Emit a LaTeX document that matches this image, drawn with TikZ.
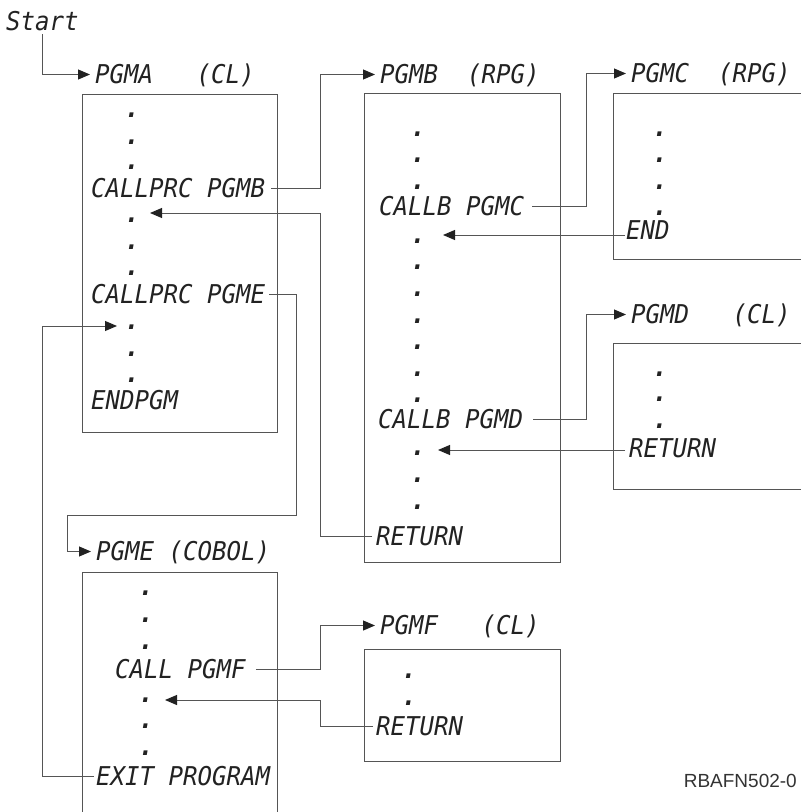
\documentclass[tikz,border=0pt]{standalone}
\usepackage{fontspec}
\usetikzlibrary{arrows.meta}
\newfontfamily\monoit{DejaVu Sans Mono Oblique}[FakeStretch=0.93]
\newfontfamily\monobi{DejaVu Sans Mono Bold Oblique}[FakeStretch=0.93]
\newfontfamily\refont{Liberation Sans}
\definecolor{txt}{HTML}{222222}
\definecolor{ln}{HTML}{555555}
\definecolor{idc}{HTML}{333333}
\begin{document}
\begin{tikzpicture}[x=1pt,y=-1pt,
  code/.style={font=\monoit\fontsize{25.9}{26}\selectfont, inner sep=0pt, text height=17pt, text depth=0pt, anchor=base west, text=txt},
  dotl/.style={code, font=\monobi\fontsize{25.9}{26}\selectfont, anchor=base},
  boxn/.style={draw=ln, line width=1pt, inner sep=0pt, anchor=north west},
  boxp/.style={draw=ln, line width=1pt},
  arr/.style={draw=ln, line width=1pt, -{Triangle[length=12pt,width=10pt,color=txt]}},
  larr/.style={arr, shorten >=5pt}]
\useasboundingbox (0,0) rectangle (801,812);

% Start
\node[code] (start) at (6,30) {Start};

% PGMA
\node[code] (pgmaL) at (95,83) {PGMA~~~(CL)};
\node[boxn, minimum width=195pt, minimum height=338pt] (boxA) at (82,94) {};
\foreach \n/\y in {1/117,2/144,3/169,5/222,6/249,7/275,9/329,10/356,11/382}
  \node[dotl] (a\n) at (132,\y) {.};
\node[code] (a4) at (91,197) {CALLPRC~PGMB};
\node[code] (a8) at (91,303) {CALLPRC~PGME};
\node[code] (a12) at (91,409) {ENDPGM};

% PGMB
\node[code] (pgmbL) at (380,83) {PGMB~~(RPG)};
\node[boxn, minimum width=196pt, minimum height=469pt] (boxB) at (364,93) {};
\foreach \n/\y in {1/136,2/162,3/189,5/243,6/269,7/296,8/323,9/349,10/376,11/402,13/455,14/482,15/509}
  \node[dotl] (b\n) at (418,\y) {.};
\node[code] (b4) at (379,215) {CALLB~PGMC};
\node[code] (b12) at (378,428) {CALLB~PGMD};
\node[code] (b16) at (376,545) {RETURN};

% PGMC
\node[code] (pgmcL) at (631,82) {PGMC~~(RPG)};
\draw[boxp] (801,93) -- (613,93) -- (613,259) -- (801,259);
\foreach \n/\y in {1/136,2/162,3/189,4/215}
  \node[dotl] (c\n) at (660,\y) {.};
\node[code] (c5) at (626,239) {END};

% PGMD
\node[code] (pgmdL) at (631,323) {PGMD~~~(CL)};
\draw[boxp] (801,343) -- (613,343) -- (613,489) -- (801,489);
\foreach \n/\y in {1/376,2/401,3/428}
  \node[dotl] (d\n) at (660,\y) {.};
\node[code] (d4) at (629,457) {RETURN};

% PGME
\node[code] (pgmeL) at (96,560) {PGME~(COBOL)};
\draw[boxp] (82,812) -- (82,572) -- (277,572) -- (277,812);
\foreach \n/\y in {1/595,2/622,3/649,5/702,6/728,7/755}
  \node[dotl] (e\n) at (146,\y) {.};
\node[code] (e4) at (115,678) {CALL~PGMF};
\node[code] (e8) at (96,785) {EXIT~PROGRAM};

% PGMF
\node[code] (pgmfL) at (380,634) {PGMF~~~(CL)};
\node[boxn, minimum width=196pt, minimum height=112pt] (boxF) at (364,649) {};
\foreach \n/\y in {1/678,2/705}
  \node[dotl] (f\n) at (409,\y) {.};
\node[code] (f3) at (376,735) {RETURN};

% figure id
\node[font=\refont\fontsize{19}{19}\selectfont, text=idc, anchor=base east, inner sep=0pt] (figid) at (797,787) {RBAFN502-0};

% routing coordinates
\coordinate (xB) at (320,0);
\coordinate (xE) at (296,0);
\coordinate (xE2) at (67,0);
\coordinate (xR) at (42,0);
\coordinate (xC) at (586,0);
\coordinate (yE) at (0,515);
\coordinate (tA5) at ([xshift=18pt,yshift=9pt]a5.base);
\coordinate (tA9) at ([xshift=-15pt,yshift=3pt]a9.base);
\coordinate (tB5) at ([xshift=25pt,yshift=8pt]b5.base);
\coordinate (tB13) at ([xshift=20pt,yshift=5pt]b13.base);
\coordinate (tE5) at ([xshift=19pt,yshift=2pt]e5.base);
\coordinate (cEndL) at ([xshift=-1pt]c5.west);
\coordinate (dRetL) at ([xshift=-4pt]d4.west);
\coordinate (bRetL) at ([xshift=-4pt]b16.west);
\coordinate (eExitL) at ([xshift=-2pt]e8.west);
\coordinate (fRetL) at ([xshift=-3pt]f3.west);

% connectors
\draw[larr] ([yshift=-4pt]start.south) |- (pgmaL.west);
\draw[larr] ([xshift=6pt]a4.east) -| (xB |- pgmbL.west) -- (pgmbL.west);
\draw[arr] (bRetL) -| (xB |- tA5) -- (tA5);
\draw[larr] ([xshift=4pt]a8.east) -| (xE |- yE) -| (xE2 |- pgmeL.west) -- (pgmeL.west);
\draw[arr] (eExitL) -| (xR |- tA9) -- (tA9);
\draw[larr] ([xshift=8pt]b4.east) -| (xC |- pgmcL.west) -- (pgmcL.west);
\draw[arr] (cEndL |- tB5) -- (tB5);
\draw[larr] ([xshift=10pt]b12.east) -| (xC |- pgmdL.west) -- (pgmdL.west);
\draw[arr] (dRetL |- tB13) -- (tB13);
\draw[larr] ([xshift=10pt]e4.east) -| (xB |- pgmfL.west) -- (pgmfL.west);
\draw[arr] (fRetL) -| (xB |- tE5) -- (tE5);
\end{tikzpicture}
\end{document}
